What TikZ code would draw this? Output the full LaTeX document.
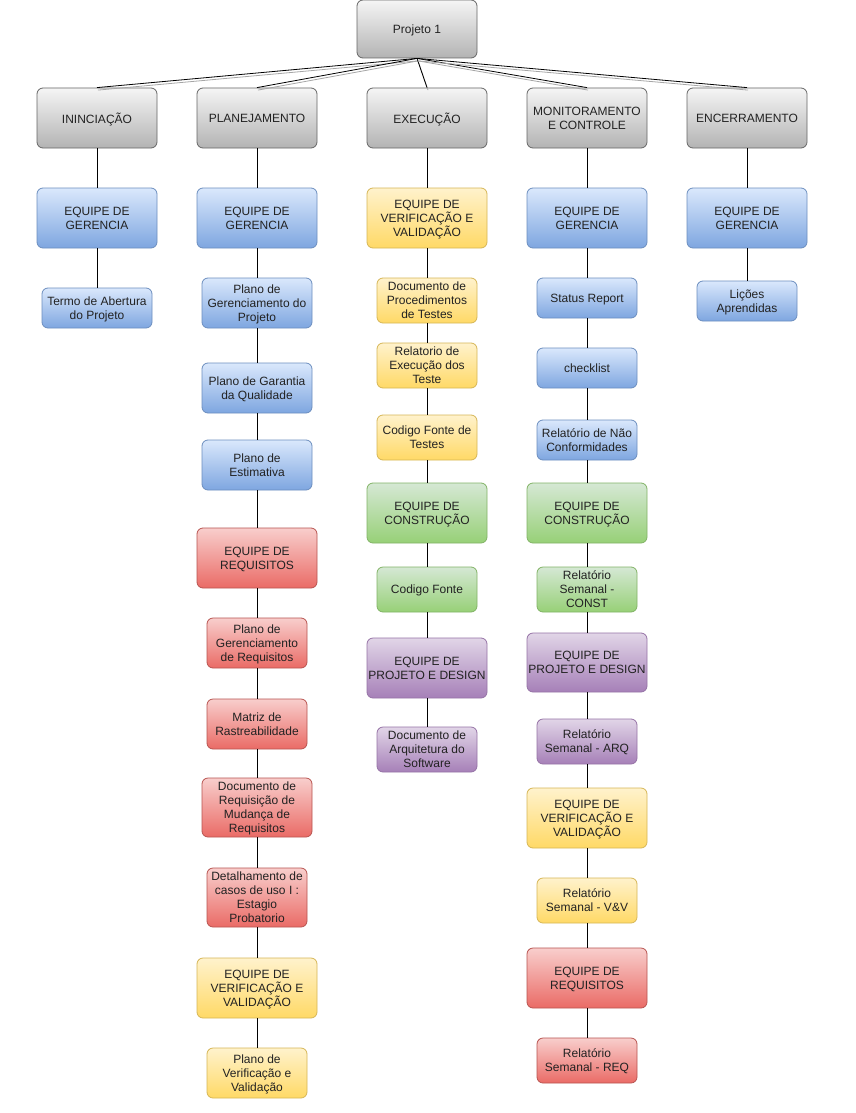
\documentclass[tikz,border=0pt]{standalone}
\usepackage{fontspec}
\setmainfont{Liberation Sans}

% fill gradients and borders of the box families
\definecolor{grayTop}{HTML}{F5F5F5}\definecolor{grayBot}{HTML}{B3B3B3}\definecolor{grayLine}{HTML}{666666}
\definecolor{blueTop}{HTML}{DAE8FC}\definecolor{blueBot}{HTML}{7EA6E0}\definecolor{blueLine}{HTML}{6C8EBF}
\definecolor{yelTop}{HTML}{FFF2CC}\definecolor{yelBot}{HTML}{FFD966}\definecolor{yelLine}{HTML}{D6B656}
\definecolor{redTop}{HTML}{F8CECC}\definecolor{redBot}{HTML}{EA6B66}\definecolor{redLine}{HTML}{B85450}
\definecolor{grnTop}{HTML}{D5E8D4}\definecolor{grnBot}{HTML}{97D077}\definecolor{grnLine}{HTML}{82B366}
\definecolor{purTop}{HTML}{E1D5E7}\definecolor{purBot}{HTML}{A680B8}\definecolor{purLine}{HTML}{9673A6}
\definecolor{txt}{HTML}{222222}

\tikzset{
  box/.style={rounded corners=6pt, line width=0.8pt, inner sep=0pt, align=center,
              text=txt, font=\fontsize{12}{14}\selectfont, text depth=-3pt},
  wh/.style 2 args={minimum width=#1pt, minimum height=#2pt},
  big/.style={wh={120}{60}},
  graybox/.style={box, draw=grayLine, top color=grayTop, bottom color=grayBot},
  bluebox/.style={box, draw=blueLine, top color=blueTop, bottom color=blueBot},
  yelbox/.style={box, draw=yelLine, top color=yelTop, bottom color=yelBot},
  redbox/.style={box, draw=redLine, top color=redTop, bottom color=redBot},
  grnbox/.style={box, draw=grnLine, top color=grnTop, bottom color=grnBot},
  purbox/.style={box, draw=purLine, top color=purTop, bottom color=purBot},
  link/.style={draw=black, line width=0.8pt},
  rootlink/.style={link, preaction={draw=black!35, line width=0.8pt,
                   transform canvas={xshift=1pt, yshift=-2.5pt}}}
}

\begin{document}
\begin{tikzpicture}[x=1pt, y=-1pt]
\useasboundingbox[fill=white] (0,0) rectangle (855,1113);

% root
\node[graybox, wh={120}{58}] (root) at (417,29) {Projeto 1};

% phase headers
\node[graybox, big] (i1) at (97,118)  {ININCIAÇÃO};
\node[graybox, big] (p1) at (257,118) {PLANEJAMENTO};
\node[graybox, big] (e1) at (427,118) {EXECUÇÃO};
\node[graybox, big] (m1) at (587,118) {MONITORAMENTO\\E CONTROLE};
\node[graybox, big] (n1) at (747,118) {ENCERRAMENTO};

% iniciação
\node[bluebox, big] (i2) at (97,218) {EQUIPE DE\\GERENCIA};
\node[bluebox, wh={110}{40}] (i3) at (97,308) {Termo de Abertura\\do Projeto};

% planejamento
\node[bluebox, big] (p2) at (257,218) {EQUIPE DE\\GERENCIA};
\node[bluebox, wh={110}{50}] (p3) at (257,303) {Plano de\\Gerenciamento do\\Projeto};
\node[bluebox, wh={110}{50}] (p4) at (257,388) {Plano de Garantia\\da Qualidade};
\node[bluebox, wh={110}{50}] (p5) at (257,465) {Plano de\\Estimativa};
\node[redbox, big] (p6) at (257,558) {EQUIPE DE\\REQUISITOS};
\node[redbox, wh={100}{50}] (p7) at (257,643) {Plano de\\Gerenciamento\\de Requisitos};
\node[redbox, wh={100}{50}] (p8) at (257,724) {Matriz de\\Rastreabilidade};
\node[redbox, wh={110}{59}] (p9) at (257,807.5) {Documento de\\Requisição de\\Mudança de\\Requisitos};
\node[redbox, wh={100}{59}] (p10) at (257,897.5) {Detalhamento de\\casos de uso I :\\Estagio\\Probatorio};
\node[yelbox, big] (p11) at (257,988) {EQUIPE DE\\VERIFICAÇÃO E\\VALIDAÇÃO};
\node[yelbox, wh={100}{50}] (p12) at (257,1073) {Plano de\\Verificação e\\Validação};

% execução
\node[yelbox, big] (e2) at (427,218) {EQUIPE DE\\VERIFICAÇÃO E\\VALIDAÇÃO};
\node[yelbox, wh={100}{45}] (e3) at (427,300.5) {Documento de\\Procedimentos\\de Testes};
\node[yelbox, wh={100}{45}] (e4) at (427,365.5) {Relatorio de\\Execução dos\\Teste};
\node[yelbox, wh={100}{45}] (e5) at (427,437.5) {Codigo Fonte de\\Testes};
\node[grnbox, big] (e6) at (427,513) {EQUIPE DE\\CONSTRUÇÃO};
\node[grnbox, wh={100}{45}] (e7) at (427,589.5) {Codigo Fonte};
\node[purbox, big] (e8) at (427,668) {EQUIPE DE\\PROJETO E DESIGN};
\node[purbox, wh={100}{45}] (e9) at (427,749.5) {Documento de\\Arquitetura do\\Software};

% monitoramento e controle
\node[bluebox, big] (m2) at (587,218) {EQUIPE DE\\GERENCIA};
\node[bluebox, wh={100}{40}] (m3) at (587,298) {Status Report};
\node[bluebox, wh={100}{40}] (m4) at (587,368) {checklist};
\node[bluebox, wh={100}{40}] (m5) at (587,440) {Relatório de Não\\Conformidades};
\node[grnbox, big] (m6) at (587,513) {EQUIPE DE\\CONSTRUÇÃO};
\node[grnbox, wh={100}{45}] (m7) at (587,589.5) {Relatório\\Semanal -\\CONST};
\node[purbox, wh={120}{59}] (m8) at (587,662.5) {EQUIPE DE\\PROJETO E DESIGN};
\node[purbox, wh={100}{45}] (m9) at (587,741.5) {Relatório\\Semanal - ARQ};
\node[yelbox, big] (m10) at (587,818) {EQUIPE DE\\VERIFICAÇÃO E\\VALIDAÇÃO};
\node[yelbox, wh={100}{45}] (m11) at (587,900.5) {Relatório\\Semanal - V\&V};
\node[redbox, big] (m12) at (587,978) {EQUIPE DE\\REQUISITOS};
\node[redbox, wh={100}{45}] (m13) at (587,1060.5) {Relatório\\Semanal - REQ};

% encerramento
\node[bluebox, big] (n2) at (747,218) {EQUIPE DE\\GERENCIA};
\node[bluebox, wh={100}{40}] (n3) at (747,301) {Lições\\Aprendidas};

% connectors: root fan-out, then each column as a chain
\foreach \b in {i1,p1,e1,m1,n1}
  \draw[rootlink] (root.south) -- (\b.north);
\foreach \a/\b in {i1/i2,i2/i3,
                   p1/p2,p2/p3,p3/p4,p4/p5,p5/p6,p6/p7,p7/p8,p8/p9,p9/p10,p10/p11,p11/p12,
                   e1/e2,e2/e3,e3/e4,e4/e5,e5/e6,e6/e7,e7/e8,e8/e9,
                   m1/m2,m2/m3,m3/m4,m4/m5,m5/m6,m6/m7,m7/m8,m8/m9,m9/m10,m10/m11,m11/m12,m12/m13,
                   n1/n2,n2/n3}
  \draw[link] (\a.south) -- (\b.north);
\end{tikzpicture}
\end{document}
